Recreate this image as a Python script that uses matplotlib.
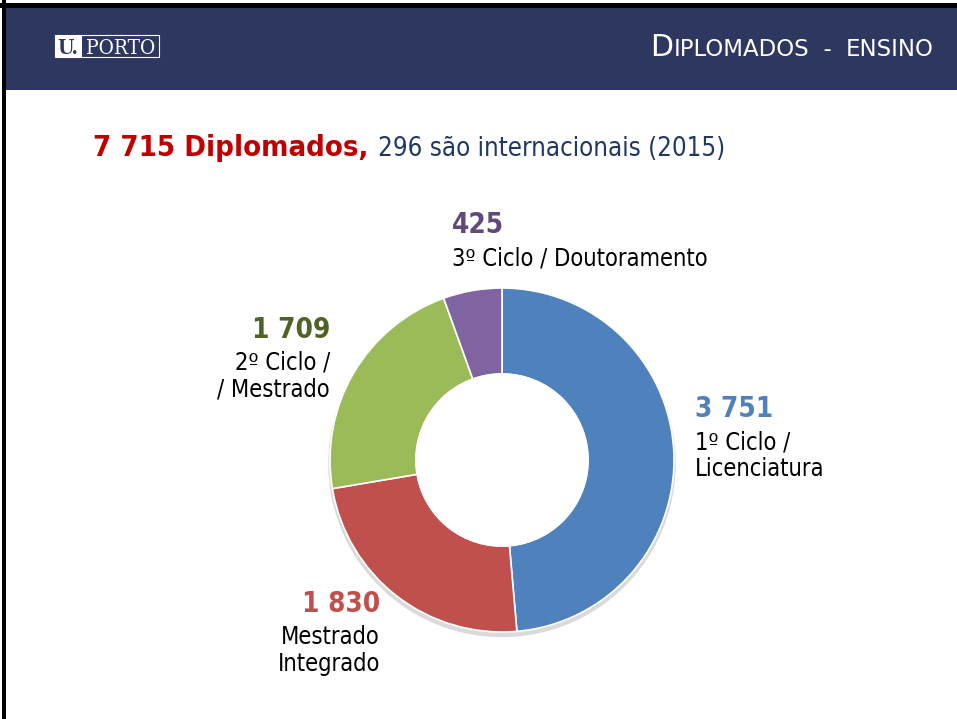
import matplotlib
matplotlib.use("Agg")
import matplotlib.pyplot as plt
from matplotlib.patches import Rectangle, Circle

W, H = 957, 719

# data
categories = ["1º Ciclo /\nLicenciatura", "Mestrado\nIntegrado", "2º Ciclo /\n/ Mestrado", "3º Ciclo / Doutoramento"]
values = [3751, 1830, 1709, 425]
value_labels = ["3 751", "1 830", "1 709", "425"]
total_label = "7 715 Diplomados,"
intl_label = "296 são internacionais (2015)"

wedge_colors = ["#4F81BD", "#C0504D", "#9BBB59", "#8064A2"]
label_colors = ["#4F81BD", "#C0504D", "#4F6228", "#604A7B"]

plt.rcParams["font.family"] = ["DejaVu Sans"]


def px(x, y):
    return x / W, 1 - y / H


fig = plt.figure(figsize=(W / 100, H / 100), dpi=100)
fig.patch.set_facecolor("white")

# header band and frame
fig.add_artist(Rectangle(px(3, 90), (W - 3) / W, 83 / H, transform=fig.transFigure,
                         facecolor="#2E3760", edgecolor="none"))
fig.add_artist(Rectangle(px(0, 8), 1, 5 / H, transform=fig.transFigure, facecolor="black", edgecolor="none"))
fig.add_artist(Rectangle(px(2, H), 4 / W, 1, transform=fig.transFigure, facecolor="black", edgecolor="none"))

# U.PORTO logo
fig.add_artist(Rectangle(px(55, 57), 104 / W, 22 / H, transform=fig.transFigure,
                         facecolor="none", edgecolor="white", linewidth=0.8))
fig.add_artist(Rectangle(px(55, 57), 27 / W, 22 / H, transform=fig.transFigure,
                         facecolor="white", edgecolor="none"))
fig.text(*px(57, 54), "U.", color="#2E3760", fontsize=15, family="DejaVu Serif",
         fontweight="bold", fontstretch="condensed", va="baseline")
fig.text(*px(86, 54), "PORTO", color="white", fontsize=15, family="DejaVu Serif",
         fontstretch="condensed", va="baseline")

# header title in small caps
fig.canvas.draw()
r = fig.canvas.get_renderer()
hx = 934
parts = [("ENSINO", 16.5), ("  -  ", 16.5), ("IPLOMADOS", 16.5), ("D", 21.5)]
x = hx
for s, fs in parts:
    tt = fig.text(*px(x, 56), s, color="white", fontsize=fs, ha="right", va="baseline",
                  fontstretch="semi-condensed")
    x -= tt.get_window_extent(renderer=r).width

# headline
t1 = fig.text(*px(93, 156), total_label, color="#C00000", fontsize=21, fontweight="bold",
              va="baseline", fontstretch="condensed")
bb = t1.get_window_extent(renderer=r)
fig.text(*px(93 + bb.width + 10, 156), intl_label, color="#1F3864", fontsize=18.5,
         va="baseline", fontstretch="condensed")

# donut
cx, cy, rad = 502, 460, 172
ax = fig.add_axes([(cx - rad) / W, (H - cy - rad) / H, 2 * rad / W, 2 * rad / H])
ax.add_patch(Circle((0.0, -0.02), 1.01, facecolor="#DADADA", edgecolor="none", zorder=0,
                    clip_on=False))
ax.pie(values, colors=wedge_colors, startangle=90, counterclock=False, radius=1,
       wedgeprops=dict(width=0.5, edgecolor="white", linewidth=1.2))
ax.add_patch(Circle((0.0, 0.0), 0.5, facecolor="white", edgecolor="white", linewidth=1.2, zorder=5))
ax.set_xlim(-1.0, 1.0)
ax.set_ylim(-1.0, 1.0)
ax.set_aspect("equal")
ax.axis("off")

# labels: (x, baseline y of value, ha)
label_pos = [(695, 417, "left"), (380, 612, "right"), (330, 338, "right"), (452, 233, "left")]
for (lx, ly, ha), cat, val, col in zip(label_pos, categories, value_labels, label_colors):
    fig.text(*px(lx, ly), val, color=col, fontsize=20, fontweight="bold", ha=ha, va="baseline",
             fontstretch="condensed")
    for i, line in enumerate(cat.split("\n")):
        fig.text(*px(lx, ly + 32 + 26.5 * i), line, color="black", fontsize=17, ha=ha,
                 va="baseline", fontstretch="condensed")

fig.savefig("out.png", dpi=100, facecolor="white")
